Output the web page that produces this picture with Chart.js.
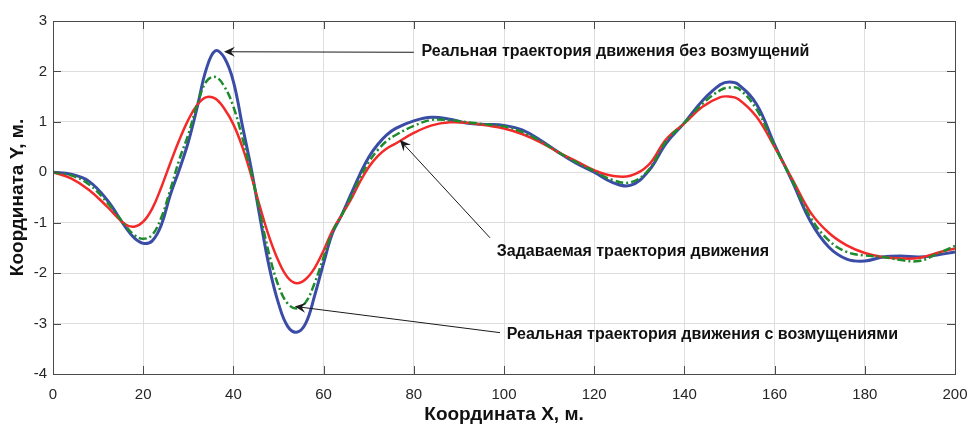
<!DOCTYPE html>
<html>
<head>
<meta charset="utf-8">
<script src="https://cdn.jsdelivr.net/npm/chart.js@4.4.0/dist/chart.umd.min.js"></script>
<style>
  html, body { margin: 0; padding: 0; background: #fff; }
  #wrap { width: 968px; height: 424px; }
</style>
</head>
<body>
<div id="wrap"><canvas id="chart" width="968" height="424"></canvas></div>
<script>
// --- данные ---
const xValues = [0, 4, 8, 12, 16, 18, 20, 22, 24, 26, 28, 30, 32, 34, 36, 38, 40,
  42, 44, 46, 48, 50, 52, 54, 56, 58, 60, 62, 64, 66, 68, 70, 72, 74, 76,
  80, 84, 88, 92, 96, 100, 104, 108, 112, 116, 120, 124, 128, 132, 136, 140,
  144, 148, 150, 152, 156, 160, 164, 168, 172, 176, 180, 184, 188, 192, 196, 200];

// Задаваемая траектория (красная)
const desiredY = [0, -0.12, -0.35, -0.68, -1.03, -1.08, -0.98, -0.72, -0.3, 0.18, 0.64, 1.04, 1.34, 1.49, 1.46, 1.26, 0.95,
  0.5, -0.08, -0.72, -1.3, -1.76, -2.08, -2.2, -2.12, -1.9, -1.55, -1.15, -0.85, -0.55, -0.2, 0.1, 0.32, 0.47, 0.57,
  0.78, 0.93, 0.99, 0.98, 0.93, 0.87, 0.76, 0.6, 0.4, 0.22, 0.04, -0.07, -0.07, 0.14, 0.66, 0.97,
  1.3, 1.49, 1.5, 1.45, 1.1, 0.5, -0.15, -0.8, -1.2, -1.45, -1.6, -1.68, -1.71, -1.7, -1.6, -1.51];

// Реальная траектория без возмущений (синяя)
const realCleanY = [0, -0.04, -0.18, -0.55, -1.08, -1.3, -1.41, -1.36, -1.05, -0.45, 0.05, 0.6, 1.3, 2.05, 2.41, 2.27, 1.8,
  0.92, 0.05, -0.95, -1.9, -2.6, -3.05, -3.17, -3.0, -2.45, -1.8, -1.2, -0.85, -0.45, -0.05, 0.3, 0.55, 0.74, 0.87,
  1.02, 1.09, 1.05, 0.97, 0.95, 0.93, 0.84, 0.64, 0.4, 0.18, 0.0, -0.2, -0.26, 0.02, 0.58, 0.98,
  1.42, 1.74, 1.79, 1.74, 1.35, 0.55, -0.2, -0.98, -1.48, -1.72, -1.76, -1.68, -1.66, -1.68, -1.64, -1.58];

// Реальная траектория с возмущениями (зелёная, штрих-пунктир)
const realNoisyY = [0, -0.06, -0.24, -0.6, -1.05, -1.24, -1.32, -1.24, -0.9, -0.35, 0.25, 0.75, 1.35, 1.8, 1.89, 1.7, 1.3,
  0.68, -0.02, -0.85, -1.65, -2.25, -2.6, -2.7, -2.58, -2.2, -1.68, -1.18, -0.85, -0.5, -0.12, 0.2, 0.44, 0.62, 0.74,
  0.92, 1.04, 1.03, 0.99, 0.95, 0.91, 0.8, 0.62, 0.4, 0.2, 0.02, -0.15, -0.2, 0.04, 0.62, 0.98,
  1.36, 1.63, 1.68, 1.66, 1.25, 0.52, -0.18, -0.9, -1.35, -1.58, -1.65, -1.68, -1.74, -1.76, -1.62, -1.46];

const xTitle = 'Координата X, м.';
const yTitle = 'Координата Y, м.';

// подписи со стрелками (в единицах осей)
const noteTexts = [
  'Реальная траектория движения без возмущений',
  'Задаваемая траектория движения',
  'Реальная траектория движения с возмущениями'
];
const noteTextX = [81.7, 98.4, 100.6];
const noteTextY = [2.39, -1.58, -3.21];
const arrowTipX = [37.9, 76.9, 53.6];
const arrowTipY = [2.39, 0.64, -2.66];
const arrowTailX = [80.0, 96.9, 99.1];
const arrowTailY = [2.38, -1.30, -3.18];

const FONT = "'Liberation Sans', Arial, Helvetica, sans-serif";

function toPoints(ys) {
  return xValues.map((x, i) => ({ x: x, y: ys[i] }));
}

// рамка и внутренние засечки в стиле MATLAB
const boxPlugin = {
  id: 'boxTicks',
  afterDatasetsDraw(chart) {
    const { ctx, chartArea: a, scales } = chart;
    const len = 8;
    ctx.save();
    ctx.strokeStyle = '#4a4a4a';
    ctx.lineWidth = 1;
    ctx.beginPath();
    scales.x.ticks.forEach(t => {
      const px = Math.round(scales.x.getPixelForValue(t.value)) + 0.5;
      ctx.moveTo(px, a.bottom); ctx.lineTo(px, a.bottom - len);
      ctx.moveTo(px, a.top); ctx.lineTo(px, a.top + len);
    });
    scales.y.ticks.forEach(t => {
      const py = Math.round(scales.y.getPixelForValue(t.value)) + 0.5;
      ctx.moveTo(a.left, py); ctx.lineTo(a.left + len, py);
      ctx.moveTo(a.right, py); ctx.lineTo(a.right - len, py);
    });
    ctx.stroke();
    ctx.strokeRect(Math.round(a.left) + 0.5, Math.round(a.top) + 0.5,
      Math.round(a.right - a.left), Math.round(a.bottom - a.top));
    ctx.restore();
  }
};

// стрелки с подписями
const notesPlugin = {
  id: 'notes',
  afterDraw(chart) {
    const { ctx, scales } = chart;
    ctx.save();
    noteTexts.forEach((txt, i) => {
      const tx = scales.x.getPixelForValue(arrowTipX[i]);
      const ty = scales.y.getPixelForValue(arrowTipY[i]);
      const sx = scales.x.getPixelForValue(arrowTailX[i]);
      const sy = scales.y.getPixelForValue(arrowTailY[i]);
      const ang = Math.atan2(ty - sy, tx - sx);
      ctx.strokeStyle = '#1a1a1a';
      ctx.fillStyle = '#1a1a1a';
      ctx.lineWidth = 1;
      ctx.beginPath();
      ctx.moveTo(sx, sy);
      ctx.lineTo(tx - 6 * Math.cos(ang), ty - 6 * Math.sin(ang));
      ctx.stroke();
      // наконечник
      const L = 11, W = 5, back = 7;
      ctx.beginPath();
      ctx.moveTo(tx, ty);
      ctx.lineTo(tx - L * Math.cos(ang) + W * Math.sin(ang), ty - L * Math.sin(ang) - W * Math.cos(ang));
      ctx.lineTo(tx - back * Math.cos(ang), ty - back * Math.sin(ang));
      ctx.lineTo(tx - L * Math.cos(ang) - W * Math.sin(ang), ty - L * Math.sin(ang) + W * Math.cos(ang));
      ctx.closePath();
      ctx.fill();
      // текст
      ctx.font = 'bold 16px ' + FONT;
      ctx.textAlign = 'left';
      ctx.textBaseline = 'middle';
      ctx.fillStyle = '#111';
      ctx.fillText(txt, scales.x.getPixelForValue(noteTextX[i]), scales.y.getPixelForValue(noteTextY[i]));
    });
    ctx.restore();
  }
};

new Chart(document.getElementById('chart'), {
  type: 'line',
  data: {
    datasets: [
      {
        label: 'Реальная траектория движения без возмущений',
        data: toPoints(realCleanY),
        borderColor: '#3b4ca6',
        borderWidth: 3,
        order: 3
      },
      {
        label: 'Задаваемая траектория движения',
        data: toPoints(desiredY),
        borderColor: '#f42a2a',
        borderWidth: 2.5,
        order: 2
      },
      {
        label: 'Реальная траектория движения с возмущениями',
        data: toPoints(realNoisyY),
        borderColor: '#1d8a2c',
        borderWidth: 2.5,
        borderDash: [8, 3, 2, 3],
        order: 1
      }
    ]
  },
  options: {
    responsive: false,
    animation: false,
    devicePixelRatio: 1,
    layout: { padding: { top: 21, right: 13, left: 0, bottom: 0 } },
    elements: {
      point: { radius: 0 },
      line: { tension: 0.4, fill: false }
    },
    plugins: {
      legend: { display: false },
      tooltip: { enabled: false }
    },
    scales: {
      x: {
        type: 'linear',
        min: 0, max: 200,
        afterFit(scale) {
          scale.height = 50;
          scale.paddingLeft = 0;
          scale.paddingRight = 0;
        },
        ticks: { stepSize: 20, color: '#262626', padding: 12, font: { family: FONT, size: 15 }, maxRotation: 0 },
        grid: { color: '#dedede', drawTicks: false },
        border: { display: false },
        title: { display: true, text: xTitle, color: '#111', font: { family: FONT, size: 19, weight: 'bold', lineHeight: 1 }, padding: { top: 0, bottom: 0 } }
      },
      y: {
        type: 'linear',
        min: -4, max: 3,
        afterFit(scale) {
          scale.width = 53;
          scale.paddingTop = 0;
          scale.paddingBottom = 0;
        },
        ticks: { stepSize: 1, color: '#262626', padding: 6, font: { family: FONT, size: 15 } },
        grid: { color: '#dedede', drawTicks: false },
        border: { display: false },
        title: { display: true, text: yTitle, color: '#111', font: { family: FONT, size: 19, weight: 'bold', lineHeight: 1 }, padding: { top: 8, bottom: 0 } }
      }
    }
  },
  plugins: [boxPlugin, notesPlugin]
});
</script>
</body>
</html>
